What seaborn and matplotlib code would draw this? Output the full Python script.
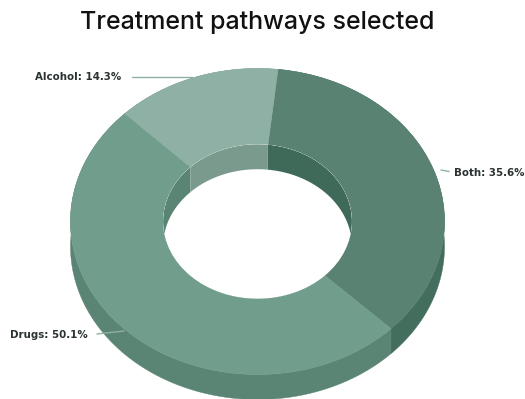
import numpy as np
import matplotlib
matplotlib.use("Agg")
import matplotlib.pyplot as plt
from matplotlib.patches import Ellipse
import seaborn as sns

title = "Treatment pathways selected"
categories = ["Both", "Drugs", "Alcohol"]
values = [35.6, 50.1, 14.3]
top_colors = ["#5a8272", "#719d8d", "#8fb0a4"]
outer_wall = ["#436e5d", "#5a8473", "#7a9a8e"]
inner_wall = ["#3f6a5a", "#5a8473", "#7a9a8e"]

W, H = 525, 399
CX, CY, RX, RY = 257.5, 221.5, 187.0, 153.0
DEPTH = 25 / RY
INNER = 0.505
START = 6.3  # degrees clockwise from 12 o'clock


def px(x, y):
    return (x - CX) / RX, (CY - y) / RY


sns.set_theme(style="white")
fig = plt.figure(figsize=(W / 100, H / 100), dpi=100, facecolor="white")
ax = fig.add_axes([0, 0, 1, 1])

edges = START + np.cumsum([0] + values) * 3.6


def wall(a0, a1, r):
    t = np.radians(np.linspace(a0, a1, 200))
    x, y = r * np.sin(t), r * np.cos(t)
    return np.r_[x, x[::-1]], np.r_[y, y[::-1] - DEPTH]


hole = Ellipse((0, 0), 2 * INNER, 2 * INNER, transform=ax.transData, fc="white", ec="none", zorder=2.5)
ax.add_patch(hole)

for i in range(len(values)):
    xs, ys = wall(edges[i], edges[i + 1], 1.0)
    ax.fill(xs, ys, color=outer_wall[i], lw=0.3, zorder=1)
    xs, ys = wall(edges[i], edges[i + 1], INNER)
    poly = ax.fill(xs, ys, color=inner_wall[i], lw=0, zorder=3)[0]
    poly.set_clip_path(Ellipse((0, 0), 2 * INNER, 2 * INNER, transform=ax.transData))

wedges, _ = ax.pie(values, colors=top_colors, startangle=90 - START, counterclock=False,
                   radius=1.0, wedgeprops=dict(width=1 - INNER, linewidth=0.4), frame=False)
for w, c in zip(wedges, top_colors):
    w.set_zorder(2)
    w.set_edgecolor(c)

ax.set_aspect("auto")
ax.set_xlim(px(0, 0)[0], px(W, 0)[0])
ax.set_ylim(px(0, H)[1], px(0, 0)[1])
ax.axis("off")

label_text = ["Both: 35.6%", "Drugs: 50.1%", "Alcohol: 14.3%"]
label_pos = [(453.5, 172.5), (10, 335.5), (35, 77)]
leaders = [[(441, 170), (449, 171.5)], [(97, 334), (124, 331)], [(132, 77), (192, 77)]]
line_color = "#8fb0a4"

for t, p, l in zip(label_text, label_pos, leaders):
    ax.text(*px(*p), t, ha="left", va="center", fontsize=7.35, fontweight="bold",
            family="DejaVu Sans", color="#2a3232", zorder=5)
    (x0, y0), (x1, y1) = px(*l[0]), px(*l[1])
    ax.plot([x0, x1], [y0, y1], color=line_color, lw=1.0, zorder=4)

fig.text(257.5 / W, 1 - 23 / H, title, ha="center", va="center", fontsize=18,
         fontweight="medium", family="Inter", color="#111111")

fig.savefig("out.png", dpi=100, facecolor="white")
